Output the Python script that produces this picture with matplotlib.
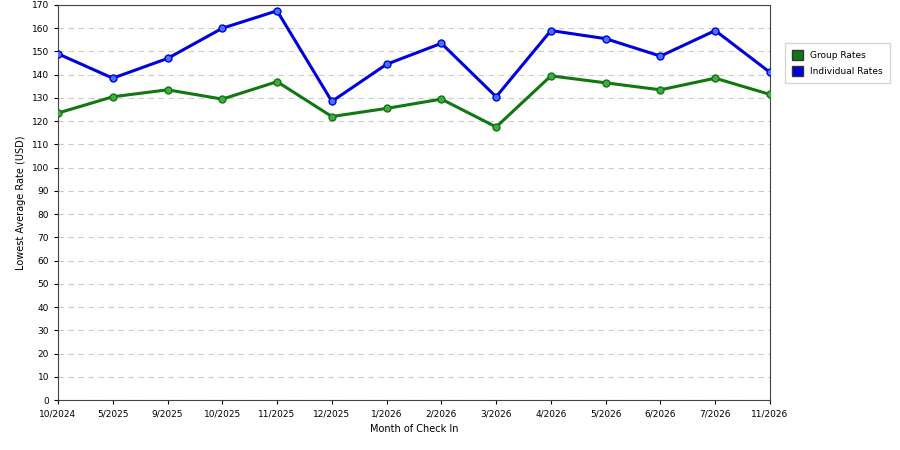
import matplotlib
matplotlib.use("Agg")
import matplotlib.pyplot as plt
from matplotlib.patches import Patch

months = ["10/2024","5/2025","9/2025","10/2025","11/2025","12/2025","1/2026","2/2026","3/2026","4/2026","5/2026","6/2026","7/2026","11/2026"]
group = [123.5,130.5,133.5,129.5,137,122,125.5,129.5,117.5,139.5,136.5,133.5,138.5,131.5]
indiv = [149,138.5,147,160,167.5,128.5,144.5,153.5,130.5,159,155.5,148,159,141]

fig = plt.figure(figsize=(9,4.5), dpi=100)
ax = fig.add_axes([58/900, 50/450, 712/900, 395/450])
x = range(len(months))
ax.plot(x, group, color="#117711", lw=2.2, marker="o", ms=5, mfc="#44aa44", mec="#117711", zorder=3)
ax.plot(x, indiv, color="#0000dd", lw=2.2, marker="o", ms=5, mfc="#4477ff", mec="#0000dd", zorder=3)
ax.set_xlim(0, len(months)-1)
ax.set_ylim(0, 170)
ax.set_yticks(range(0,171,10))
ax.set_xticks(list(x))
ax.set_xticklabels(months)
ax.tick_params(labelsize=6.5, length=3)
ax.grid(axis="y", ls=(0,(5,4)), color="#cccccc", lw=0.8)
ax.set_axisbelow(True)
ax.set_xlabel("Month of Check In", fontsize=7)
ax.set_ylabel("Lowest Average Rate (USD)", fontsize=7)
for s in ax.spines.values():
    s.set_color("#444444")
h = [Patch(facecolor="#117711", edgecolor="#333333", label="Group Rates"),
     Patch(facecolor="#0000dd", edgecolor="#333333", label="Individual Rates")]
fig.legend(handles=h, loc="upper left", bbox_to_anchor=(780/900, 1-38/450), fontsize=6.5,
           frameon=True, fancybox=False, edgecolor="#cccccc", handlelength=1.2, handleheight=1.4,
           borderpad=0.8, labelspacing=0.6)
fig.savefig("out.png")
